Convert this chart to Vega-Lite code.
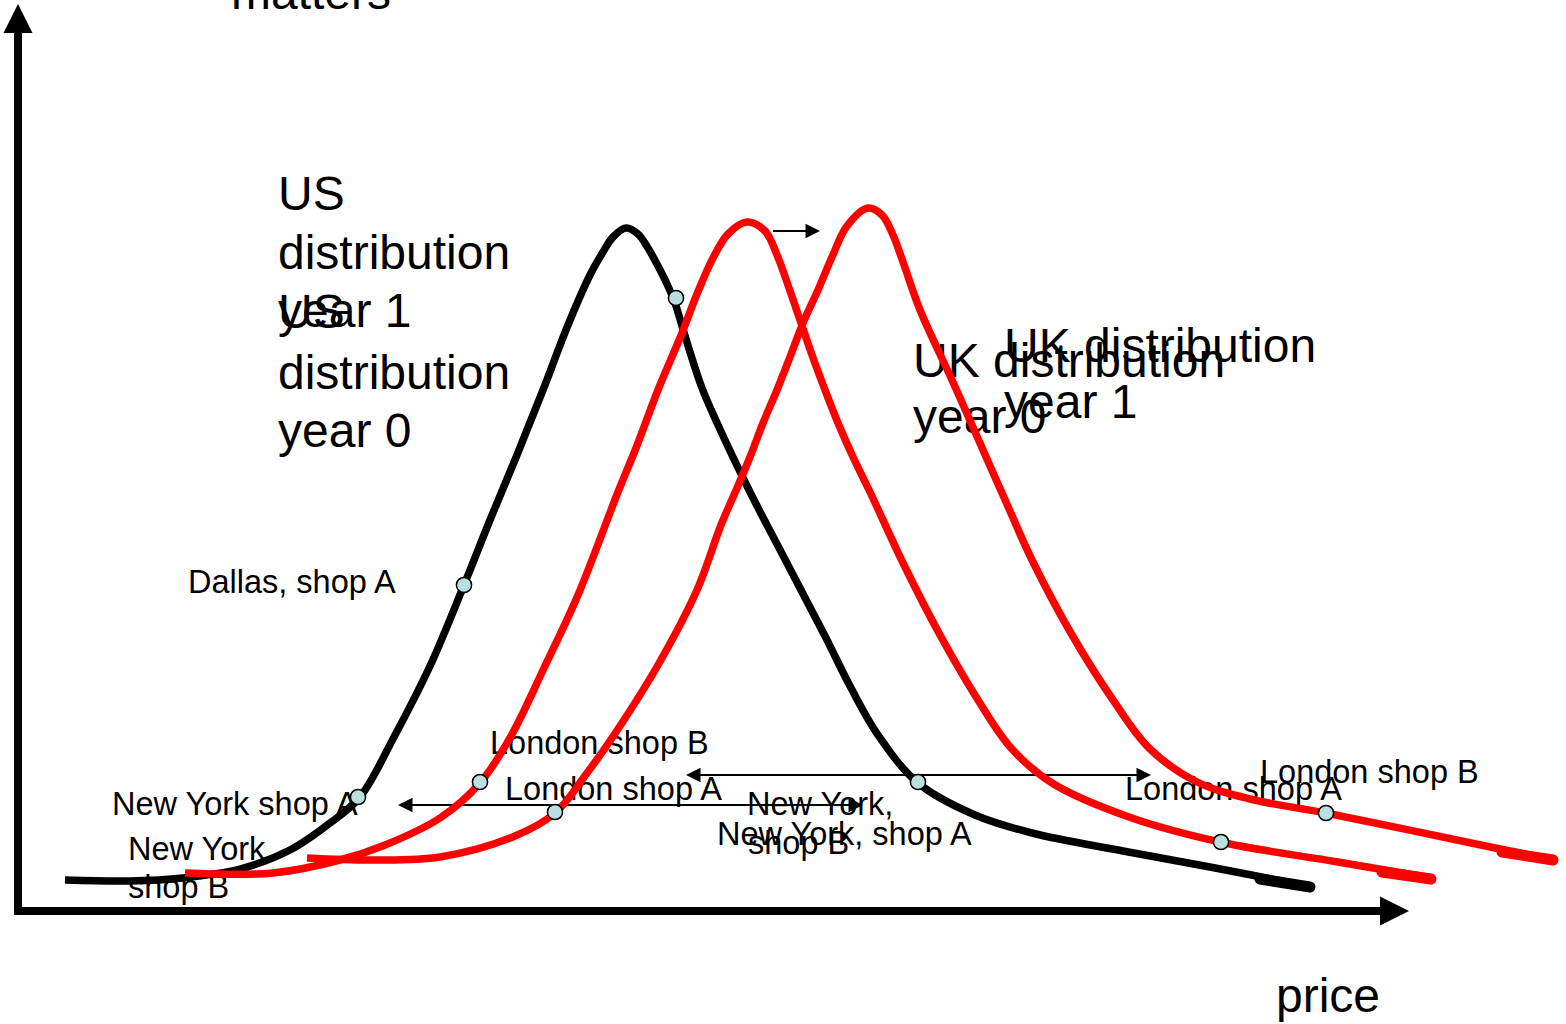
{
  "$schema": "https://vega.github.io/schema/vega-lite/v6.json",
  "width": 1566,
  "height": 1024,
  "autosize": {"type": "none"},
  "padding": 0,
  "background": "white",
  "config": {"view": {"stroke": null}},
  "datasets": {
    "curves": [
      {"s": "US year 0", "x": 65, "y": 880}, {"s": "US year 0", "x": 130, "y": 881}, {"s": "US year 0", "x": 183, "y": 878}, {"s": "US year 0", "x": 240, "y": 869}, {"s": "US year 0", "x": 290, "y": 850}, {"s": "US year 0", "x": 330, "y": 823}, {"s": "US year 0", "x": 360, "y": 797}, {"s": "US year 0", "x": 394, "y": 737}, {"s": "US year 0", "x": 430, "y": 666}, {"s": "US year 0", "x": 464, "y": 585}, {"s": "US year 0", "x": 490, "y": 520}, {"s": "US year 0", "x": 517, "y": 455}, {"s": "US year 0", "x": 543, "y": 390}, {"s": "US year 0", "x": 568, "y": 325}, {"s": "US year 0", "x": 590, "y": 275}, {"s": "US year 0", "x": 603, "y": 252}, {"s": "US year 0", "x": 613, "y": 237}, {"s": "US year 0", "x": 626, "y": 228}, {"s": "US year 0", "x": 638, "y": 234}, {"s": "US year 0", "x": 648, "y": 248}, {"s": "US year 0", "x": 658, "y": 266}, {"s": "US year 0", "x": 667, "y": 284}, {"s": "US year 0", "x": 675, "y": 303}, {"s": "US year 0", "x": 682, "y": 326}, {"s": "US year 0", "x": 690, "y": 352}, {"s": "US year 0", "x": 702, "y": 388}, {"s": "US year 0", "x": 718, "y": 425}, {"s": "US year 0", "x": 750, "y": 492}, {"s": "US year 0", "x": 789, "y": 567}, {"s": "US year 0", "x": 825, "y": 636}, {"s": "US year 0", "x": 850, "y": 686}, {"s": "US year 0", "x": 878, "y": 735}, {"s": "US year 0", "x": 918, "y": 783}, {"s": "US year 0", "x": 975, "y": 815}, {"s": "US year 0", "x": 1032, "y": 833}, {"s": "US year 0", "x": 1123, "y": 851}, {"s": "US year 0", "x": 1210, "y": 867}, {"s": "US year 0", "x": 1312, "y": 887},
      {"s": "UK year 0", "x": 185, "y": 873}, {"s": "UK year 0", "x": 273, "y": 873}, {"s": "UK year 0", "x": 340, "y": 860}, {"s": "UK year 0", "x": 385, "y": 845}, {"s": "UK year 0", "x": 440, "y": 818}, {"s": "UK year 0", "x": 480, "y": 783}, {"s": "UK year 0", "x": 511, "y": 736}, {"s": "UK year 0", "x": 544, "y": 668}, {"s": "UK year 0", "x": 578, "y": 595}, {"s": "UK year 0", "x": 618, "y": 492}, {"s": "UK year 0", "x": 636, "y": 448}, {"s": "UK year 0", "x": 658, "y": 390}, {"s": "UK year 0", "x": 682, "y": 333}, {"s": "UK year 0", "x": 697, "y": 294}, {"s": "UK year 0", "x": 713, "y": 258}, {"s": "UK year 0", "x": 728, "y": 234}, {"s": "UK year 0", "x": 747, "y": 222}, {"s": "UK year 0", "x": 765, "y": 231}, {"s": "UK year 0", "x": 777, "y": 255}, {"s": "UK year 0", "x": 789, "y": 288}, {"s": "UK year 0", "x": 800, "y": 320}, {"s": "UK year 0", "x": 812, "y": 355}, {"s": "UK year 0", "x": 825, "y": 390}, {"s": "UK year 0", "x": 838, "y": 423}, {"s": "UK year 0", "x": 853, "y": 457}, {"s": "UK year 0", "x": 870, "y": 492}, {"s": "UK year 0", "x": 904, "y": 565}, {"s": "UK year 0", "x": 940, "y": 635}, {"s": "UK year 0", "x": 978, "y": 700}, {"s": "UK year 0", "x": 1011, "y": 748}, {"s": "UK year 0", "x": 1052, "y": 783}, {"s": "UK year 0", "x": 1129, "y": 817}, {"s": "UK year 0", "x": 1220, "y": 842}, {"s": "UK year 0", "x": 1338, "y": 862}, {"s": "UK year 0", "x": 1432, "y": 878},
      {"s": "UK year 1", "x": 307, "y": 858}, {"s": "UK year 1", "x": 373, "y": 860}, {"s": "UK year 1", "x": 440, "y": 857}, {"s": "UK year 1", "x": 515, "y": 836}, {"s": "UK year 1", "x": 555, "y": 813}, {"s": "UK year 1", "x": 587, "y": 773}, {"s": "UK year 1", "x": 614, "y": 735}, {"s": "UK year 1", "x": 658, "y": 665}, {"s": "UK year 1", "x": 697, "y": 590}, {"s": "UK year 1", "x": 721, "y": 525}, {"s": "UK year 1", "x": 737, "y": 488}, {"s": "UK year 1", "x": 750, "y": 457}, {"s": "UK year 1", "x": 763, "y": 423}, {"s": "UK year 1", "x": 777, "y": 390}, {"s": "UK year 1", "x": 790, "y": 357}, {"s": "UK year 1", "x": 803, "y": 323}, {"s": "UK year 1", "x": 818, "y": 290}, {"s": "UK year 1", "x": 832, "y": 257}, {"s": "UK year 1", "x": 847, "y": 226}, {"s": "UK year 1", "x": 868, "y": 208}, {"s": "UK year 1", "x": 882, "y": 215}, {"s": "UK year 1", "x": 893, "y": 235}, {"s": "UK year 1", "x": 903, "y": 262}, {"s": "UK year 1", "x": 920, "y": 310}, {"s": "UK year 1", "x": 952, "y": 380}, {"s": "UK year 1", "x": 983, "y": 450}, {"s": "UK year 1", "x": 1006, "y": 502}, {"s": "UK year 1", "x": 1032, "y": 560}, {"s": "UK year 1", "x": 1072, "y": 635}, {"s": "UK year 1", "x": 1113, "y": 700}, {"s": "UK year 1", "x": 1149, "y": 748}, {"s": "UK year 1", "x": 1195, "y": 781}, {"s": "UK year 1", "x": 1250, "y": 799}, {"s": "UK year 1", "x": 1326, "y": 813}, {"s": "UK year 1", "x": 1500, "y": 849}, {"s": "UK year 1", "x": 1555, "y": 860}
    ],
    "tails": [
      {"s": "US year 0", "x": 1260, "y": 879}, {"s": "US year 0", "x": 1310, "y": 887},
      {"s": "UK year 0", "x": 1382, "y": 872}, {"s": "UK year 0", "x": 1431, "y": 879},
      {"s": "UK year 1", "x": 1502, "y": 852}, {"s": "UK year 1", "x": 1553, "y": 860}
    ],
    "shops": [
      {"label": "US year 0 upper right", "x": 676, "y": 298},
      {"label": "Dallas, shop A", "x": 464, "y": 585},
      {"label": "New York shop A", "x": 358, "y": 797},
      {"label": "London shop B (year 0)", "x": 480, "y": 782},
      {"label": "London shop A (year 1)", "x": 555, "y": 812},
      {"label": "New York, shop A", "x": 918, "y": 782},
      {"label": "London shop A (year 0)", "x": 1221, "y": 842},
      {"label": "London shop B (year 1)", "x": 1326, "y": 813}
    ],
    "axisLines": [
      {"x": 18, "y": 30, "x2": 18, "y2": 915},
      {"x": 14, "y": 911, "x2": 1382, "y2": 911}
    ],
    "arrowLines": [
      {"x": 690, "y": 775, "x2": 1145, "y2": 775},
      {"x": 402, "y": 805, "x2": 857, "y2": 805},
      {"x": 773, "y": 231, "x2": 808, "y2": 231}
    ],
    "headsRight": [
      {"x": 1151, "y": 775}, {"x": 863, "y": 805}, {"x": 820, "y": 231}
    ],
    "headsLeft": [
      {"x": 686, "y": 775}, {"x": 398, "y": 805}
    ],
    "axisHeadUp": [{"x": 18, "y": 4}],
    "axisHeadRight": [{"x": 1409, "y": 911}],
    "bigText": [
      {"t": "matters", "x": 231, "y": 9},
      {"t": "US", "x": 278, "y": 210},
      {"t": "distribution", "x": 278, "y": 269},
      {"t": "year 1", "x": 278, "y": 327},
      {"t": "US", "x": 278, "y": 328},
      {"t": "distribution", "x": 278, "y": 389},
      {"t": "year 0", "x": 278, "y": 447},
      {"t": "UK distribution", "x": 913, "y": 377},
      {"t": "year 0", "x": 913, "y": 433},
      {"t": "UK distribution", "x": 1004, "y": 362},
      {"t": "year 1", "x": 1004, "y": 418},
      {"t": "price", "x": 1276, "y": 1012}
    ],
    "smallText": [
      {"t": "Dallas, shop A", "x": 188, "y": 593},
      {"t": "New York shop A", "x": 112, "y": 815},
      {"t": "New York", "x": 128, "y": 860},
      {"t": "shop B", "x": 128, "y": 898},
      {"t": "London shop B", "x": 490, "y": 754},
      {"t": "London shop A", "x": 505, "y": 800},
      {"t": "New York,", "x": 747, "y": 815},
      {"t": "shop B", "x": 748, "y": 854},
      {"t": "New York, shop A", "x": 717, "y": 845},
      {"t": "London shop A", "x": 1125, "y": 800},
      {"t": "London shop B", "x": 1260, "y": 783}
    ]
  },
  "encoding": {
    "x": {"field": "x", "type": "quantitative", "scale": {"domain": [0, 1566], "nice": false, "zero": false}, "axis": null},
    "y": {"field": "y", "type": "quantitative", "scale": {"domain": [0, 1024], "nice": false, "zero": false, "reverse": true}, "axis": null}
  },
  "layer": [
    {
      "data": {"name": "bigText"},
      "mark": {"type": "text", "align": "left", "baseline": "alphabetic", "font": "Liberation Sans", "fontSize": 48, "color": "#000000"},
      "encoding": {"text": {"field": "t"}}
    },
    {
      "data": {"name": "smallText"},
      "mark": {"type": "text", "align": "left", "baseline": "alphabetic", "font": "Liberation Sans", "fontSize": 32.5, "color": "#000000"},
      "encoding": {"text": {"field": "t"}}
    },
    {
      "data": {"name": "axisLines"},
      "mark": {"type": "rule", "color": "#000000", "strokeWidth": 8},
      "encoding": {"x2": {"field": "x2"}, "y2": {"field": "y2"}}
    },
    {
      "data": {"name": "arrowLines"},
      "mark": {"type": "rule", "color": "#000000", "strokeWidth": 2},
      "encoding": {"x2": {"field": "x2"}, "y2": {"field": "y2"}}
    },
    {
      "data": {"name": "headsRight"},
      "mark": {"type": "point", "shape": "M0,0L-2,-1L-2,1Z", "size": 210, "filled": true, "color": "#000000", "opacity": 1, "strokeWidth": 0}
    },
    {
      "data": {"name": "headsLeft"},
      "mark": {"type": "point", "shape": "M0,0L2,-1L2,1Z", "size": 210, "filled": true, "color": "#000000", "opacity": 1, "strokeWidth": 0}
    },
    {
      "data": {"name": "axisHeadUp"},
      "mark": {"type": "point", "shape": "M0,0L-1,2L1,2Z", "size": 841, "filled": true, "color": "#000000", "opacity": 1, "strokeWidth": 0}
    },
    {
      "data": {"name": "axisHeadRight"},
      "mark": {"type": "point", "shape": "M0,0L-2,-1L-2,1Z", "size": 841, "filled": true, "color": "#000000", "opacity": 1, "strokeWidth": 0}
    },
    {
      "data": {"name": "curves"},
      "mark": {"type": "line", "interpolate": "catmull-rom", "strokeWidth": 7.5, "strokeCap": "butt", "strokeJoin": "round"},
      "encoding": {
        "color": {"field": "s", "type": "nominal", "scale": {"domain": ["US year 0", "UK year 0", "UK year 1"], "range": ["#000000", "#ff0000", "#ff0000"]}, "legend": null}
      }
    },
    {
      "data": {"name": "tails"},
      "mark": {"type": "line", "strokeWidth": 11, "strokeCap": "round"},
      "encoding": {
        "color": {"field": "s", "type": "nominal", "scale": {"domain": ["US year 0", "UK year 0", "UK year 1"], "range": ["#000000", "#ff0000", "#ff0000"]}, "legend": null}
      }
    },
    {
      "data": {"name": "shops"},
      "mark": {"type": "point", "shape": "circle", "size": 230, "filled": true, "fill": "#b9dfe1", "stroke": "#000000", "strokeWidth": 1.5, "opacity": 1}
    }
  ]
}
